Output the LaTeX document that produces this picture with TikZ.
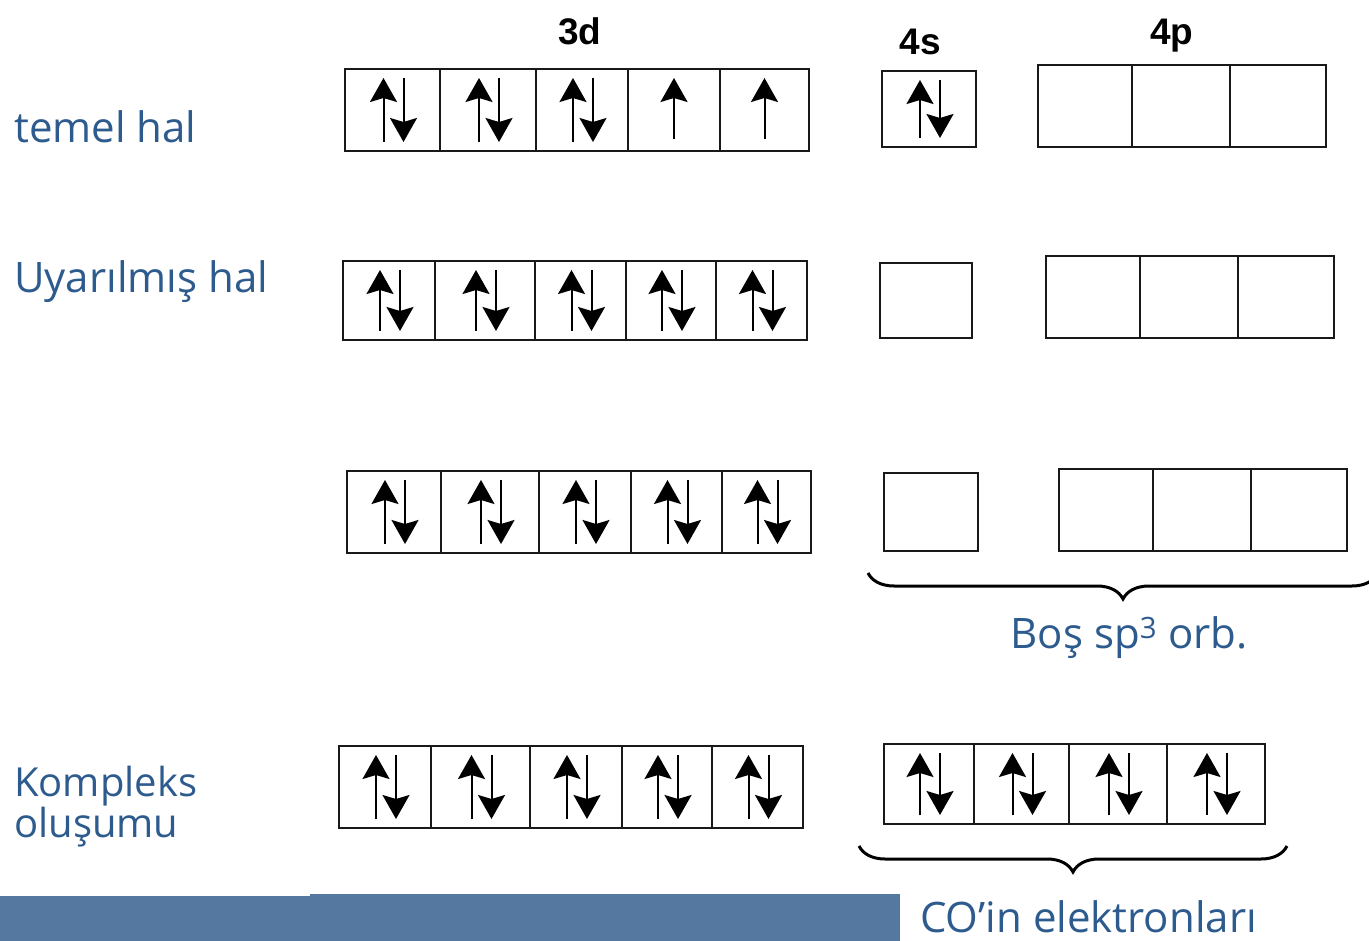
\documentclass[tikz,border=0pt]{standalone}
\usepackage{fontspec}
\setmainfont{Open Sans}
\newfontfamily\hdfont{Liberation Sans}
\usetikzlibrary{arrows.meta,decorations.pathreplacing,calc}
\definecolor{labblue}{HTML}{2E5B8E}
\definecolor{barblue}{HTML}{54789F}
\tikzset{
  cell/.style={draw=black!90, line width=1.7pt, inner sep=0pt, outer sep=0pt},
  spin/.style={line width=2pt, -{Stealth[length=24pt,width=27pt,inset=4pt]}},
  lab/.style={text=labblue, font=\fontsize{42}{38}\selectfont, anchor=base west, inner sep=0pt},
  head/.style={font=\hdfont\bfseries\fontsize{37}{37}\selectfont, anchor=base, inner sep=0pt},
  bracepath/.style={decorate, decoration={brace, amplitude=26pt}, line width=3pt}
}
\newcommand\orb[5]{\node[cell, minimum width={#3-#2}, minimum height={#5-#4}] (#1) at ({(#2+#3)/2},{(#4+#5)/2}) {};}
\newcommand\ud[1]{%
  \draw[spin] ([xshift=-9pt,yshift=9pt]#1.south) -- ([xshift=-9pt,yshift=-9pt]#1.north);
  \draw[spin] ([xshift=11pt,yshift=-9pt]#1.north) -- ([xshift=11pt,yshift=9pt]#1.south);}
\newcommand\uo[1]{%
  \draw[spin] ([yshift=12pt]#1.south) -- ([yshift=-9pt]#1.north);}
\begin{document}
\begin{tikzpicture}[x=1pt,y=-1pt]
\path[use as bounding box] (0,0) rectangle (1369,941);
% bottom bar
\fill[barblue] (0,896) rectangle (311,941);
\fill[barblue] (310,894) rectangle (900,941);
% headers
\node[head] (h3d) at (580,45) {3d};
\node[head] (h4s) at (920,55) {4s};
\node[head] (h4p) at (1172,45) {4p};
% row labels
\node[lab] (l1) at (14,143) {temel hal};
\node[lab] (l2) at (14,293) {Uyarılmış hal};
\node[lab, font=\fontsize{40}{38}\selectfont, align=left, anchor=north west] (l3) at (14,766) {Kompleks\\oluşumu};
% row 1
\orb{a1}{345}{440}{69}{151}\orb{a2}{440}{536}{69}{151}\orb{a3}{536}{628}{69}{151}\orb{a4}{628}{720}{69}{151}\orb{a5}{720}{809}{69}{151}
\orb{a6}{882}{976}{71}{147}
\orb{a7}{1038}{1132}{65}{147}\orb{a8}{1132}{1230}{65}{147}\orb{a9}{1230}{1326}{65}{147}
\ud{a1}\ud{a2}\ud{a3}\uo{a4}\uo{a5}\ud{a6}
% row 2
\orb{b1}{343}{435}{261}{340}\orb{b2}{435}{535}{261}{340}\orb{b3}{535}{626}{261}{340}\orb{b4}{626}{716}{261}{340}\orb{b5}{716}{807}{261}{340}
\orb{b6}{880}{972}{263}{338}
\orb{b7}{1046}{1140}{256}{338}\orb{b8}{1140}{1238}{256}{338}\orb{b9}{1238}{1334}{256}{338}
\ud{b1}\ud{b2}\ud{b3}\ud{b4}\ud{b5}
% row 3
\orb{c1}{347}{441}{471}{553}\orb{c2}{441}{539}{471}{553}\orb{c3}{539}{631}{471}{553}\orb{c4}{631}{722}{471}{553}\orb{c5}{722}{811}{471}{553}
\orb{c6}{884}{978}{473}{551}
\orb{c7}{1059}{1153}{469}{551}\orb{c8}{1153}{1251}{469}{551}\orb{c9}{1251}{1347}{469}{551}
\ud{c1}\ud{c2}\ud{c3}\ud{c4}\ud{c5}
\coordinate (br1r) at (1378,573);
\coordinate (br1l) at (868,573);
\draw[bracepath] (br1r) -- (br1l);
\node[lab, anchor=base] (sp3) at (1129,648) {Boş sp\textsuperscript{3} orb.};
% row 4
\orb{d1}{339}{431}{746}{828}\orb{d2}{431}{530}{746}{828}\orb{d3}{530}{622}{746}{828}\orb{d4}{622}{712}{746}{828}\orb{d5}{712}{803}{746}{828}
\orb{d6}{884}{974}{744}{824}\orb{d7}{974}{1069}{744}{824}\orb{d8}{1069}{1167}{744}{824}\orb{d9}{1167}{1265}{744}{824}
\ud{d1}\ud{d2}\ud{d3}\ud{d4}\ud{d5}\ud{d6}\ud{d7}\ud{d8}\ud{d9}
\coordinate (br2r) at (1287,846);
\coordinate (br2l) at (859,846);
\draw[bracepath] (br2r) -- (br2l);
\node[lab] (co) at (920,932) {CO’in elektronları};
\end{tikzpicture}
\end{document}
